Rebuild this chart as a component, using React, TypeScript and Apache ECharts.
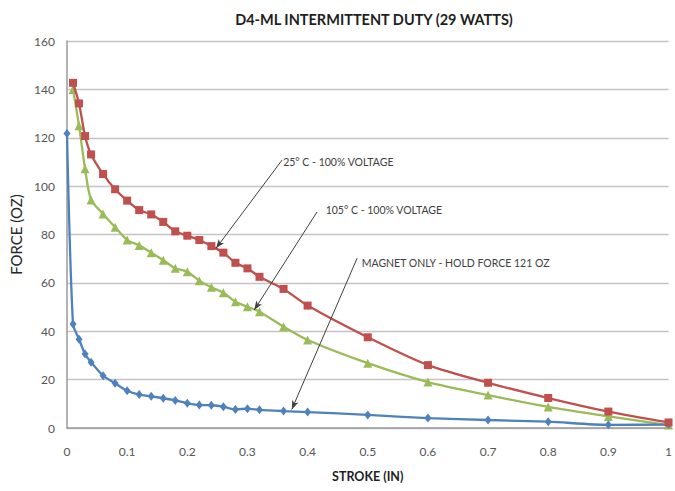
import React, { useEffect, useRef } from "react";
import * as echarts from "echarts";

const strokeMain = [0.01, 0.02, 0.03, 0.04, 0.06, 0.08, 0.1, 0.12, 0.14, 0.16, 0.18, 0.2, 0.22, 0.24, 0.26, 0.28, 0.3, 0.32, 0.36, 0.4, 0.5, 0.6, 0.7, 0.8, 0.9, 1.0];
const force25 = [142.7, 134.2, 120.7, 113.1, 105, 98.7, 94, 90.1, 88.3, 85.2, 81.3, 79.5, 77.7, 75.2, 72.5, 68.3, 66, 62.5, 57.5, 50.6, 37.5, 26, 18.7, 12.4, 6.8, 2.3];
const force105 = [140, 125, 107.2, 94.3, 88.5, 83, 77.7, 75.5, 72.5, 69.4, 66, 64.6, 60.9, 58.2, 55.9, 52.2, 50.1, 48.1, 41.9, 36.4, 26.8, 19, 13.6, 8.7, 4.8, 1.2];
const strokeMagnet = [0, 0.01, 0.02, 0.03, 0.04, 0.06, 0.08, 0.1, 0.12, 0.14, 0.16, 0.18, 0.2, 0.22, 0.24, 0.26, 0.28, 0.3, 0.32, 0.36, 0.4, 0.5, 0.6, 0.7, 0.8, 0.9, 1.0];
const forceMagnet = [121.8, 43, 36.7, 30.6, 27.2, 21.6, 18.5, 15.4, 13.8, 13.1, 12.3, 11.4, 10.2, 9.5, 9.4, 8.8, 7.7, 8.0, 7.5, 7.0, 6.6, 5.4, 4.1, 3.3, 2.6, 1.3, 1.4];

const xTicks = ["0", "0.1", "0.2", "0.3", "0.4", "0.5", "0.6", "0.7", "0.8", "0.9", "1"];

const noteTexts = ["25° C - 100% VOLTAGE", "105° C - 100% VOLTAGE", "MAGNET ONLY - HOLD FORCE 121 OZ"];
const noteAnchors = [
  [0.3593, 110.0],
  [0.43, 90.1],
  [0.49, 68.4],
];
const arrowStarts = [
  [0.3576, 110.8],
  [0.4156, 89.3],
  [0.4823, 70.2],
];
const arrowEnds = [
  [0.2478, 74.3],
  [0.3113, 48.8],
  [0.3737, 7.7],
];

const FONT = "Lato, 'Open Sans', sans-serif";

export default function App() {
  const ref = useRef<HTMLDivElement>(null);
  useEffect(() => {
    document.body.style.margin = "0";
    const chart = echarts.init(ref.current!, null, { renderer: "svg" });
    const zip = (xs: number[], ys: number[]) => xs.map((x, i) => [x, ys[i]]);
    const option: any = {
      animation: false,
      backgroundColor: "#ffffff",
      textStyle: { fontFamily: FONT },
      title: {
        text: "D4-ML INTERMITTENT DUTY (29 WATTS)",
        left: 369,
        textAlign: "center",
        top: 7,
        textStyle: { fontFamily: FONT, fontSize: 14.5, fontWeight: "bold", color: "#1f1f1f" },
      },
      grid: { left: 67, right: 4, top: 41, bottom: 63, containLabel: false },
      xAxis: {
        type: "value",
        min: 0,
        max: 1,
        interval: 0.1,
        name: "STROKE (IN)",
        nameLocation: "middle",
        nameGap: 42,
        nameTextStyle: { fontFamily: FONT, fontSize: 12.5, fontWeight: "bold", color: "#1f1f1f" },
        axisLine: { show: true, lineStyle: { color: "#9a9a9a", width: 1.5 } },
        axisTick: { show: false },
        splitLine: { show: false },
        axisLabel: {
          margin: 17,
          fontSize: 12,
          color: "#555555",
          fontFamily: FONT,
          formatter: (v: number) => xTicks[Math.round(v * 10)] ?? "",
        },
      },
      yAxis: {
        type: "value",
        min: 0,
        max: 160,
        interval: 20,
        name: "FORCE (OZ)",
        nameLocation: "middle",
        nameGap: 37,
        nameTextStyle: { fontFamily: FONT, fontSize: 15, color: "#262626" },
        axisLine: { show: true, lineStyle: { color: "#9a9a9a", width: 1.5 } },
        axisTick: { show: false },
        splitLine: { show: true, lineStyle: { color: "#c4c4c4", width: 1.3 } },
        axisLabel: { margin: 12, fontSize: 12, color: "#555555", fontFamily: FONT },
      },
      series: [
        {
          name: "25C",
          type: "line",
          data: zip(strokeMain, force25),
          smooth: 0.25,
          symbol: "rect",
          symbolSize: 8,
          itemStyle: { color: "#C0504D" },
          lineStyle: { color: "#C0504D", width: 2.3 },
          z: 3,
          markLine: {
            silent: true,
            symbol: ["none", "arrow"],
            symbolSize: [5, 9],
            label: { show: false },
            lineStyle: { color: "#404040", width: 1, type: "solid" },
            data: arrowStarts.map((s, i) => [{ coord: s }, { coord: arrowEnds[i] }]),
          },
          markPoint: {
            silent: true,
            symbol: "circle",
            symbolSize: 0,
            label: {
              show: true,
              position: "right",
              distance: 0,
              fontFamily: FONT,
              fontSize: 10.5,
              color: "#404040",
              formatter: (p: any) => p.name,
            },
            data: noteAnchors.map((c, i) => ({ name: noteTexts[i], coord: c })),
          },
        },
        {
          name: "105C",
          type: "line",
          data: zip(strokeMain, force105),
          smooth: 0.25,
          symbol: "triangle",
          symbolSize: 9,
          itemStyle: { color: "#9BBB59" },
          lineStyle: { color: "#9BBB59", width: 2.3 },
          z: 2,
        },
        {
          name: "Magnet",
          type: "line",
          data: zip(strokeMagnet, forceMagnet),
          smooth: 0.25,
          symbol: "diamond",
          symbolSize: [7, 9],
          itemStyle: { color: "#4F81BD" },
          lineStyle: { color: "#4F81BD", width: 2.3 },
          z: 2,
        },
      ],
    };
    chart.setOption(option);
    return () => chart.dispose();
  }, []);
  return <div ref={ref} style={{ position: "fixed", left: 0, top: 0, width: 675, height: 491 }} />;
}
